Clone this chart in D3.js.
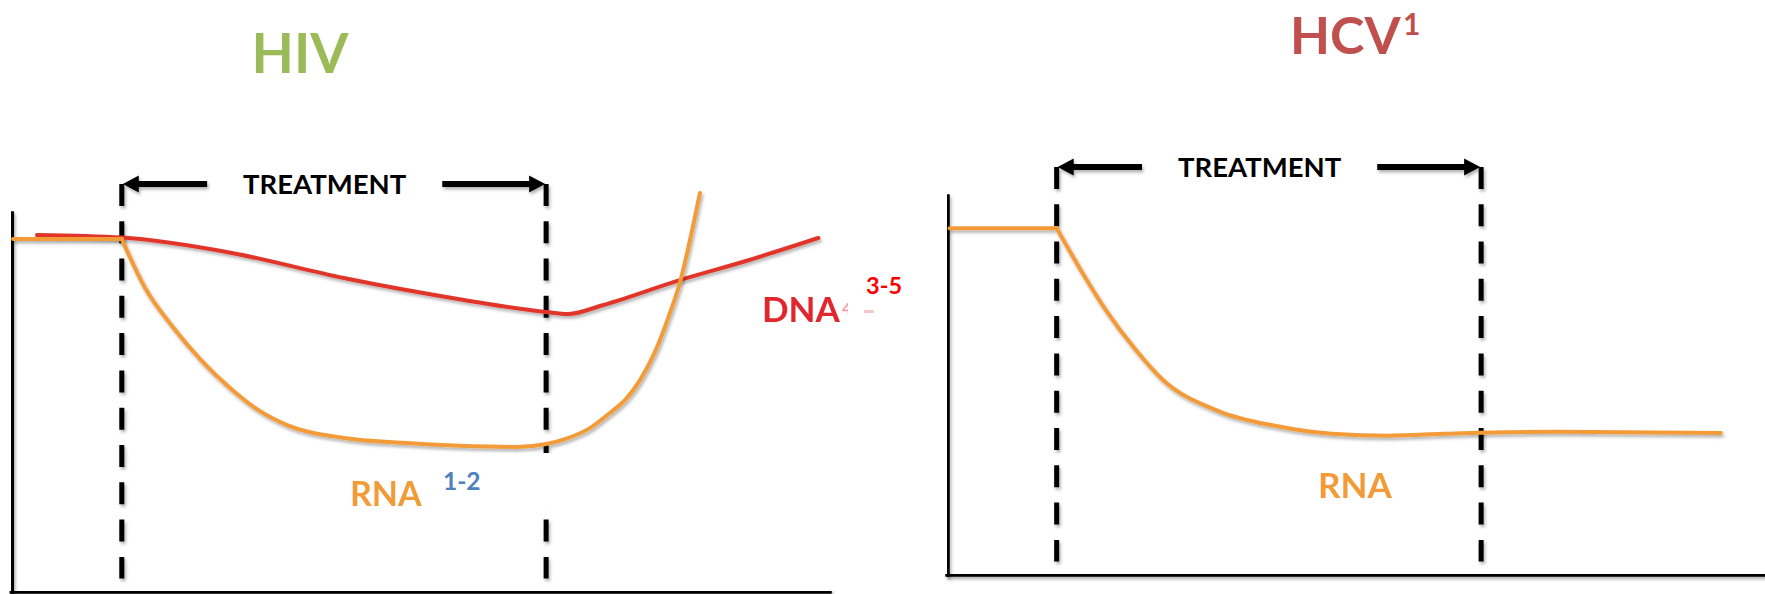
<!DOCTYPE html>
<html>
<head>
<meta charset="utf-8">
<script src="https://cdn.jsdelivr.net/npm/d3@7"></script>
<style>
  html, body { margin: 0; padding: 0; background: #fff; }
  svg { display: block; }
  text { font-family: Lato, "Liberation Sans", Arial, sans-serif; font-weight: bold; }
</style>
</head>
<body>
<svg id="chart" width="1765" height="594"></svg>
<script>
// ---------------- DATA ----------------
const treatmentWindow = [0, 48];              // treatment start / stop (time units)
const arrowGap = [9.65, 36.25];               // gap left for the "TREATMENT" label

// HIV panel
const hivRnaTime  = [-12.3, 0, 2.62, 5.68, 8.96, 12.24, 15.41, 18.69, 25.14, 31.7, 38.14, 44.7, 48, 50.14, 52.96, 55.22, 57.15, 58.62, 60.3, 62.0, 63.15, 64.28, 65.4];
const hivRnaLevel = [93.1, 93.1, 80.2, 70.1, 61.1, 53.7, 47.9, 43.9, 40.5, 39.2, 38.4, 38.1, 38.9, 40.2, 43.1, 47.1, 51.1, 55.8, 63.2, 73.5, 81.7, 92.9, 105.3];
const hivDnaTime  = [-9.6, 0, 12.3, 25.1, 38.2, 48, 50.5, 54.4, 63.2, 70.6, 78.8];
const hivDnaLevel = [94.2, 93.5, 89.5, 82.8, 77.2, 73.8, 73.3, 75.6, 82.3, 87.3, 93.4];

// HCV panel
const hcvRnaTime  = [-12.1, 0, 2.4, 5.6, 8.8, 11.9, 18.3, 24.7, 31.1, 37.5, 43.8, 48, 56.6, 75.1];
const hcvRnaLevel = [91.5, 91.5, 81.7, 69.7, 59.7, 51.6, 43.1, 39.2, 37.1, 36.6, 37.1, 37.4, 37.6, 37.3];

// Labels
const titles = ["HIV", "HCV"];
const titleSup = ["", "1"];
const treatmentLabel = "TREATMENT";
const seriesLabels = { rna: "RNA", dna: "DNA" };
const refLabels = { hivRna: "1-2", hivDna: "3-5" };

// ---------------- STYLE ----------------
const C = {
  orange: "#F39B38",
  red: "#E2362B",
  redText: "#E1262D",
  hiv: "#9BBB59",
  hcv: "#C0504D",
  blue: "#4F81BD",
  brightRed: "#FF0000"
};

const svg = d3.select("#chart");
const defs = svg.append("defs");
defs.append("filter").attr("id", "sh")
  .attr("filterUnits", "userSpaceOnUse").attr("x", 0).attr("y", 0).attr("width", 1765).attr("height", 594)
  .append("feDropShadow").attr("dx", 1.5).attr("dy", 2.5).attr("stdDeviation", 1.6)
  .attr("flood-color", "#000").attr("flood-opacity", 0.3);
defs.append("filter").attr("id", "soft")
  .attr("filterUnits", "userSpaceOnUse").attr("x", 0).attr("y", 0).attr("width", 1765).attr("height", 594)
  .append("feGaussianBlur").attr("stdDeviation", 0.6);

const zip = (t, v) => t.map((d, i) => ({ t: d, v: v[i] }));

function panel(cfg) {
  const x = d3.scaleLinear().domain(cfg.xDomain).range(cfg.xRange);
  const y = d3.scaleLinear().domain([0, 100]).range(cfg.yRange);
  const g = svg.append("g");

  // axes (no ticks, just the domain lines)
  const ax = g.append("g").attr("transform", `translate(0,${y(0)})`)
    .call(d3.axisBottom(x).tickValues([]).tickSizeOuter(0));
  const ay = g.append("g").attr("transform", `translate(${x(cfg.xDomain[0])},0)`)
    .call(d3.axisLeft(y).tickValues([]).tickSizeOuter(0));
  [ax, ay].forEach(a => a.select(".domain")
    .attr("stroke", "#000").attr("stroke-width", 4.5).attr("stroke-linecap", "square")
    .attr("filter", "url(#sh)"));

  const yTop = 107.7, yBot = 3.3;
  // dashed treatment boundaries
  g.selectAll(".bound").data(treatmentWindow).join("line")
    .attr("x1", d => x(d)).attr("x2", d => x(d))
    .attr("y1", y(yTop)).attr("y2", y(yBot))
    .attr("stroke", "#000").attr("stroke-width", 5)
    .attr("stroke-dasharray", "22,15.3").attr("filter", "url(#sh)");

  // arrows
  const ya = y(yTop);
  const arr = g.append("g").attr("filter", "url(#sh)");
  arr.append("line").attr("x1", x(treatmentWindow[0]) + 10).attr("x2", x(arrowGap[0]))
    .attr("y1", ya).attr("y2", ya).attr("stroke", "#000").attr("stroke-width", 6);
  arr.append("line").attr("x1", x(arrowGap[1])).attr("x2", x(treatmentWindow[1]) - 10)
    .attr("y1", ya).attr("y2", ya).attr("stroke", "#000").attr("stroke-width", 6);
  const x0 = x(treatmentWindow[0]) + 1, x1 = x(treatmentWindow[1]) - 1;
  arr.append("path").attr("d", `M${x0},${ya}L${x0 + 16},${ya - 8.5}L${x0 + 16},${ya + 8.5}Z`).attr("fill", "#000");
  arr.append("path").attr("d", `M${x1},${ya}L${x1 - 16},${ya - 8.5}L${x1 - 16},${ya + 8.5}Z`).attr("fill", "#000");

  g.append("text").attr("x", x((arrowGap[0] + arrowGap[1]) / 2)).attr("y", ya + 10.5)
    .attr("text-anchor", "middle").attr("font-size", 27.5).attr("fill", "#000")
    .text(treatmentLabel);

  return { g, x, y };
}

function drawRna(p, t, v) {
  const pts = zip(t, v);
  const pre = pts.filter(d => d.t <= treatmentWindow[0]);
  const post = pts.filter(d => d.t >= treatmentWindow[0]);
  const lin = d3.line().x(d => p.x(d.t)).y(d => p.y(d.v)).curve(d3.curveLinear);
  const smooth = d3.line().x(d => p.x(d.t)).y(d => p.y(d.v)).curve(d3.curveMonotoneX);
  const gg = p.g.append("g").attr("filter", "url(#sh)");
  gg.append("path").attr("d", lin(pre)).attr("fill", "none").attr("stroke", C.orange).attr("stroke-width", 4).attr("stroke-linecap", "round");
  gg.append("path").attr("d", smooth(post)).attr("fill", "none").attr("stroke", C.orange).attr("stroke-width", 4).attr("stroke-linecap", "round").attr("stroke-linejoin", "round");
}

// ---------------- HIV ----------------
const hiv = panel({ xDomain: [-12.5, 80], xRange: [11.3, 829], yRange: [591, 213] });
{
  const line = d3.line().x(d => hiv.x(d.t)).y(d => hiv.y(d.v)).curve(d3.curveMonotoneX);
  hiv.g.append("path").attr("d", line(zip(hivDnaTime, hivDnaLevel)))
    .attr("fill", "none").attr("stroke", C.red).attr("stroke-width", 4).attr("stroke-linecap", "round")
    .attr("filter", "url(#sh)");
  drawRna(hiv, hivRnaTime, hivRnaLevel);

  // labels
  svg.append("text").attr("x", 300).attr("y", 73).attr("text-anchor", "middle")
    .attr("font-size", 55).attr("fill", C.hiv).text(titles[0]);

  svg.append("text").attr("x", 350).attr("y", 506).attr("font-size", 34)
    .attr("fill", C.orange).attr("filter", "url(#soft)").text(seriesLabels.rna);
  // white patch hiding the original reference
  svg.append("rect").attr("x", 422).attr("y", 453).attr("width", 138).attr("height", 56).attr("fill", "#fff");
  svg.append("text").attr("x", 443).attr("y", 490).attr("font-size", 24.5)
    .attr("fill", C.blue).text(refLabels.hivRna);

  svg.append("text").attr("x", 762).attr("y", 322).attr("font-size", 35)
    .attr("fill", C.redText).attr("filter", "url(#soft)").text(seriesLabels.dna);
  svg.append("text").attr("x", 842).attr("y", 314).attr("font-size", 16)
    .attr("fill", C.redText).attr("opacity", 0.45).attr("filter", "url(#soft)").text("4");
  svg.append("rect").attr("x", 848).attr("y", 296).attr("width", 16).attr("height", 24).attr("fill", "#fff");
  svg.append("rect").attr("x", 864).attr("y", 310).attr("width", 10).attr("height", 3).attr("fill", C.redText).attr("opacity", 0.25);
  svg.append("text").attr("x", 866).attr("y", 294).attr("font-size", 23.5)
    .attr("fill", C.brightRed).text(refLabels.hivDna);
}

// ---------------- HCV ----------------
const hcv = panel({ xDomain: [-12.4, 80.1], xRange: [947, 1765], yRange: [574, 196] });
{
  drawRna(hcv, hcvRnaTime, hcvRnaLevel);
  svg.append("text").attr("x", 1290).attr("y", 54).attr("font-size", 52).attr("fill", C.hcv)
    .text(titles[1]);
  svg.append("text").attr("x", 1403).attr("y", 35).attr("font-size", 30).attr("fill", C.hcv)
    .text(titleSup[1]);

  svg.append("text").attr("x", 1318).attr("y", 497.5).attr("font-size", 35)
    .attr("fill", C.orange).attr("filter", "url(#soft)").text(seriesLabels.rna);
}
</script>
</body>
</html>
